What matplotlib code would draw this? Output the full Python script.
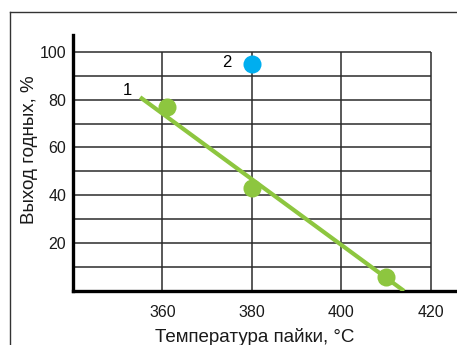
"""Yield of good parts versus soldering temperature."""
import matplotlib

matplotlib.use("Agg")
import matplotlib.pyplot as plt
from matplotlib.lines import Line2D

plt.rcParams["font.family"] = ["Liberation Sans", "DejaVu Sans"]

# measured points, series 1 (green) and series 2 (blue)
temp_1 = [361, 380, 410]
yield_1 = [77, 43, 6]
temp_2 = [380]
yield_2 = [95]

# fitted trend for series 1
trend_temp = [355, 414]
trend_yield = [81, 0]

x_ticks = [360, 380, 400, 420]
y_ticks = [20, 40, 60, 80, 100]
y_grid = [10, 20, 30, 40, 50, 60, 70, 80, 90, 100]

green = "#8dc63f"
blue = "#00aeef"
grid_color = "#2b2b2b"

fig = plt.figure(figsize=(4.57, 3.45), dpi=100)
ax = fig.add_axes([73 / 457, 1 - 291 / 345, 383 / 457, 256 / 345])
ax.set_xlim(340, 425.6)
ax.set_ylim(0, 107)

# grid only inside the 340..420 x 0..100 box
ax.hlines(y_grid, 340, 420, color=grid_color, lw=1.1, zorder=1)
ax.vlines(x_ticks, 0, 100, color=grid_color, lw=1.1, zorder=1)

ax.plot(trend_temp, trend_yield, color=green, lw=3, solid_capstyle="butt",
        zorder=3)
ax.plot(temp_1, yield_1, "o", color=green, ms=13, mec="none", zorder=4)
ax.plot(temp_2, yield_2, "o", color=blue, ms=13, mec="none", zorder=4)

ax.text(352.2, 84, "1", fontsize=12, ha="center", va="center")
ax.text(374.4, 95.3, "2", fontsize=12, ha="center", va="center")

for side in ("top", "right"):
    ax.spines[side].set_visible(False)
for side in ("left", "bottom"):
    ax.spines[side].set_linewidth(2.4)
    ax.spines[side].set_color("black")

ax.set_xticks(x_ticks)
ax.set_yticks(y_ticks)
ax.tick_params(length=0, labelsize=11.5, colors="#1a1a1a")
ax.tick_params(axis="x", pad=10)
ax.tick_params(axis="y", pad=5)

ax.set_xlabel("Температура пайки, °C", fontsize=13.5, color="#1a1a1a")
ax.xaxis.set_label_coords((255 - 73) / 383, -(342 - 291) / 256,
                          transform=ax.transAxes)
ax.xaxis.label.set_va("baseline")
ax.set_ylabel("Выход годных, %", fontsize=13.5, color="#1a1a1a")
ax.yaxis.set_label_coords(-(73 - 30) / 383, (291 - 150) / 256,
                          transform=ax.transAxes)
ax.yaxis.label.set_va("center")

# outer frame: top and left edges
frame_kw = dict(color="#333333", lw=1.0, transform=fig.transFigure)
fig.add_artist(Line2D([10 / 457, 1], [1 - 12 / 345, 1 - 12 / 345], **frame_kw))
fig.add_artist(Line2D([10 / 457, 10 / 457], [0, 1 - 12 / 345], **frame_kw))

fig.savefig("out.png", dpi=100)
